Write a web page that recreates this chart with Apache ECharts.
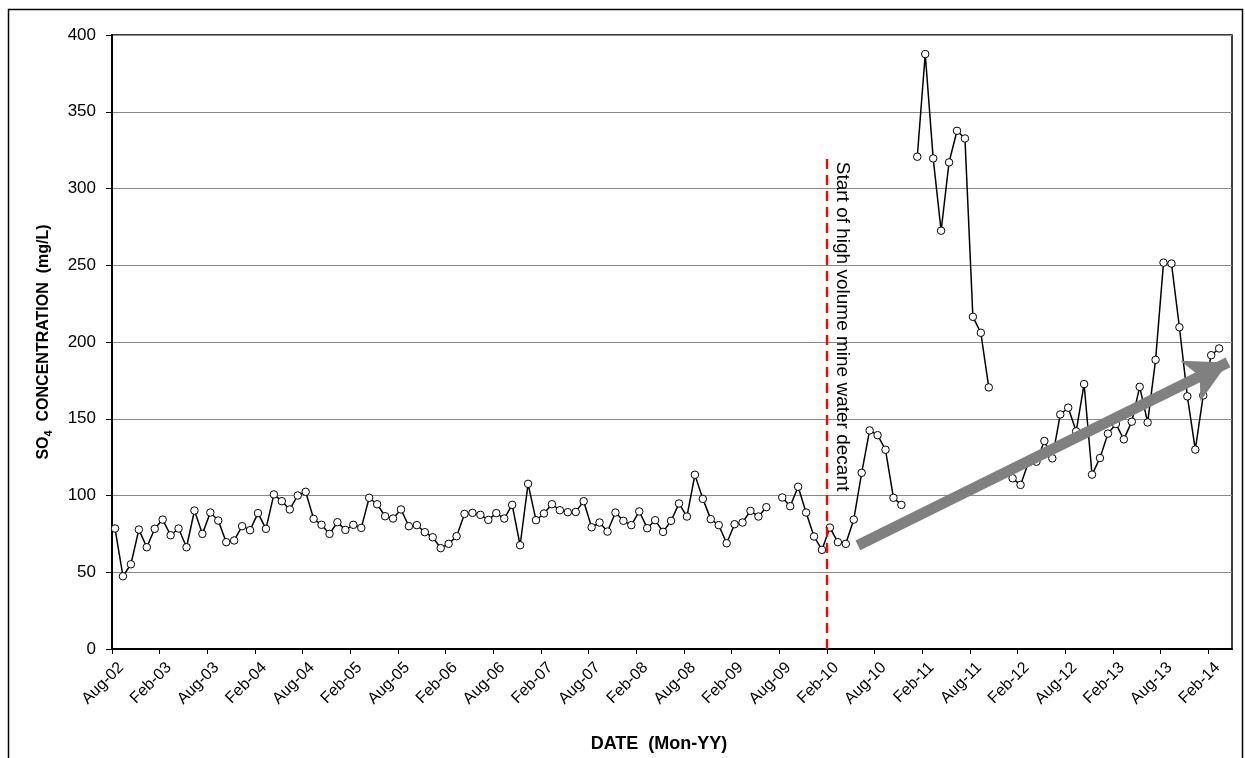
<!DOCTYPE html>
<html>
<head>
<meta charset="utf-8">
<script src="https://cdn.jsdelivr.net/npm/echarts@6/dist/echarts.min.js"></script>
<style>
  html, body { margin: 0; padding: 0; background: #fff; }
  #chart { width: 1245px; height: 758px; }
</style>
</head>
<body>
<div id="chart"></div>
<script>
// Tick labels every 6 months, starting Aug-02 (month index 0)
const tickLabels = ['Aug-02','Feb-03','Aug-03','Feb-04','Aug-04','Feb-05','Aug-05','Feb-06','Aug-06','Feb-07','Aug-07','Feb-08',
                    'Aug-08','Feb-09','Aug-09','Feb-10','Aug-10','Feb-11','Aug-11','Feb-12','Aug-12','Feb-13','Aug-13','Feb-14'];

// Monthly SO4 concentration (mg/L), first sample Aug-02; null = no sample
const so4 = [
  78.5, 47.4, 55.2, 77.8, 66.3, 78.3, 84.3, 74.1, 78.5, 66.3, 90.2, 75.0,
  88.9, 83.7, 69.6, 70.7, 80.0, 77.4, 88.5, 78.3, 100.7, 96.3, 90.9, 100.0,
  102.4, 84.8, 80.9, 75.0, 82.6, 77.6, 80.9, 78.9, 98.5, 94.3, 86.5, 85.0,
  90.9, 80.0, 80.7, 76.1, 72.8, 65.7, 68.5, 73.5, 88.0, 88.7, 87.4, 84.1,
  88.5, 85.0, 93.9, 67.6, 107.6, 83.9, 88.3, 94.3, 90.4, 89.1, 89.3, 96.3,
  79.3, 82.4, 76.5, 88.9, 83.5, 80.7, 89.6, 78.7, 83.9, 76.3, 83.5, 94.8,
  86.3, 113.5, 97.8, 84.6, 80.7, 68.9, 81.3, 82.4, 90.0, 86.3, 92.4, null,
  98.7, 93.0, 105.7, 88.9, 73.3, 64.6, 79.1, 69.6, 68.5, 84.3, 114.8, 142.4,
  139.3, 129.8, 98.5, 93.9, null, 320.7, 387.6, 319.6, 272.5, 317.0, 337.6, 332.6,
  216.4, 206.0, 170.4, null, null, 111.2, 106.9, 121.6, 122.0, 135.5, 124.2, 152.8,
  157.2, 141.8, 172.6, 113.6, 124.4, 140.3, 146.6, 136.6, 148.1, 170.8, 147.6, 188.4,
  251.7, 251.1, 209.6, 164.6, 129.9, 165.2, 191.4, 195.8
];

// Sampling falls partway through each month (fraction of a month)
const sampleOffset = 0.38;
const totalMonths = 141;            // Aug-02 .. May-14
const decantMonth = 90;             // Feb-10
const decantLineTop = 322;
const decantText = 'Start of high volume mine water decant';
const trendStart = [93.9, 67.5];
const trendEnd = [140.5, 186.7];

const FONT = '"Liberation Sans", Arial, Helvetica, sans-serif';

const seriesData = so4.map((v, i) => [i + sampleOffset, v === null ? '-' : v]);

const chart = echarts.init(document.getElementById('chart'), null, { renderer: 'canvas' });

const option = {
  backgroundColor: '#ffffff',
  animation: false,
  grid: {
    left: 112, top: 35, right: 13, bottom: 108,
    show: true, borderColor: '#000', borderWidth: 1.5, backgroundColor: 'transparent'
  },
  xAxis: {
    type: 'value',
    min: 0, max: totalMonths, interval: 6,
    name: 'DATE  (Mon-YY)',
    nameLocation: 'middle',
    nameGap: 86,
    nameTextStyle: { fontFamily: FONT, fontSize: 18, fontWeight: 'bold', color: '#000', padding: [0, 26, 0, 0] },
    axisLine: { show: true, onZero: false, lineStyle: { color: '#000', width: 2 } },
    axisTick: { show: true, inside: false, length: 5, lineStyle: { color: '#000', width: 1 } },
    axisLabel: {
      rotate: 45, fontFamily: FONT, fontSize: 16, color: '#000', margin: 7,
      verticalAlign: 'top',
      showMaxLabel: false,
      formatter: v => (v % 6 === 0 && tickLabels[v / 6]) ? '{a|' + tickLabels[v / 6] + '}' : '',
      rich: {
        a: { fontFamily: FONT, fontSize: 16, color: '#000', padding: [5, 0, 0, 0] }
      }
    },
    splitLine: { show: false }
  },
  yAxis: {
    type: 'value',
    min: 0, max: 400, interval: 50,
    name: '{b|SO}{s|4}{b|  CONCENTRATION  (mg/L)}',
    nameLocation: 'middle',
    nameGap: 58,
    nameTextStyle: {
      color: '#000',
      rich: {
        b: { fontFamily: FONT, fontSize: 16, fontWeight: 'bold', color: '#000', lineHeight: 20, verticalAlign: 'middle' },
        s: { fontFamily: FONT, fontSize: 11, fontWeight: 'bold', color: '#000', lineHeight: 11, verticalAlign: 'bottom' }
      }
    },
    axisLine: { show: true, lineStyle: { color: '#000', width: 2 } },
    axisTick: { show: true, inside: false, length: 6, lineStyle: { color: '#000', width: 1 } },
    axisLabel: { fontFamily: FONT, fontSize: 17, color: '#000', margin: 16 },
    splitLine: { show: true, lineStyle: { color: '#8a8a8a', width: 1 } }
  },
  series: [
    {
      type: 'line',
      data: seriesData,
      connectNulls: false,
      symbol: 'circle',
      symbolSize: 7.5,
      showAllSymbol: true,
      itemStyle: { color: '#fff', borderColor: '#000', borderWidth: 1 },
      lineStyle: { color: '#000', width: 1.5 },
      z: 3,
      markLine: {
        silent: true,
        animation: false,
        symbol: ['none', 'none'],
        label: { show: false },
        lineStyle: { color: '#ff0000', width: 2.4, type: [10, 6] },
        data: [
          [{ coord: [decantMonth, 0] }, { coord: [decantMonth, decantLineTop] }]
        ]
      }
    },
    {
      type: 'line',
      data: [],
      z: 2,
      markLine: {
        silent: true,
        animation: false,
        symbol: ['none', 'arrow'],
        symbolSize: [34, 42],
        label: { show: false },
        lineStyle: { color: '#808080', width: 11, type: 'solid', cap: 'butt', opacity: 1 },
        emphasis: { disabled: true },
        data: [
          [{ coord: trendStart, itemStyle: { color: '#808080' } }, { coord: trendEnd, itemStyle: { color: '#808080' } }]
        ]
      }
    }
  ]
};

chart.setOption(option);

// Annotation text beside the decant line, placed through the chart's own scales
const p = chart.convertToPixel({ gridIndex: 0 }, [decantMonth, decantLineTop]);
chart.setOption({
  graphic: [
    {
      type: 'rect',
      shape: { x: 8.5, y: 9.5, width: 1234, height: 800 },
      style: { fill: 'none', stroke: '#000', lineWidth: 1.5 },
      silent: true, z: -1
    },
    {
      type: 'text',
      x: p[0] + 6,
      y: p[1] + 7,
      rotation: -Math.PI / 2,
      style: {
        text: decantText,
        fontFamily: FONT,
        fontSize: 19,
        fill: '#000',
        textAlign: 'left', align: 'left',
        textVerticalAlign: 'bottom', verticalAlign: 'bottom'
      },
      silent: true, z: 10
    }
  ]
});
</script>
</body>
</html>
